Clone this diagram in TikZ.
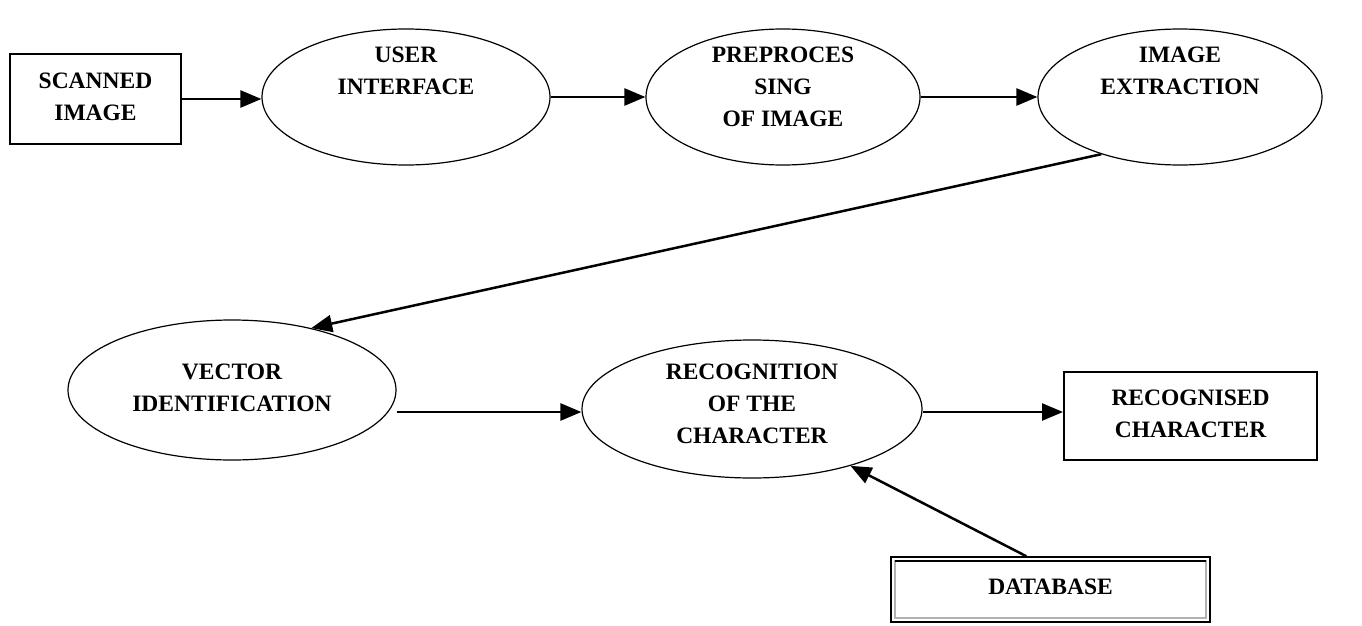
\documentclass[tikz,border=0pt]{standalone}
\usepackage{fontspec}
\setmainfont{Liberation Serif}
\usetikzlibrary{shapes.geometric,arrows.meta}
\begin{document}
\begin{tikzpicture}[x=1pt,y=-1pt,
  lbl/.style={font=\bfseries\fontsize{23.5}{32}\selectfont,align=center,inner sep=0pt},
  oval/.style={draw,ellipse,line width=1.2pt,inner sep=0pt},
  box/.style={draw,line width=2pt,inner sep=0pt},
  flow/.style={-{Triangle[length=21pt,width=17pt]},line width=2.5pt}]
\useasboundingbox (0,0) rectangle (1362,626);

% top row
\node[box,minimum width=171pt,minimum height=90pt] (scan) at (95.5,99) {};
\node[lbl] (scant) at (95.5,97) {SCANNED\\IMAGE};

\node[oval,minimum width=288pt,minimum height=136pt] (ui) at (406,97) {};
\node[lbl] (uit) at (406,71) {USER\\INTERFACE};

\node[oval,minimum width=274pt,minimum height=136pt] (pre) at (783,97) {};
\node[lbl] (pret) at (783,87) {PREPROCES\\SING\\OF IMAGE};

\node[oval,minimum width=284pt,minimum height=136pt] (ext) at (1180,97) {};
\node[lbl] (extt) at (1180,71) {IMAGE\\EXTRACTION};

% bottom row
\node[oval,minimum width=328pt,minimum height=140pt] (vec) at (232,390) {};
\node[lbl] (vect) at (232,388) {VECTOR\\IDENTIFICATION};

\node[oval,minimum width=340pt,minimum height=138pt] (rec) at (752,409) {};
\node[lbl] (rect) at (752,404) {RECOGNITION\\OF THE\\CHARACTER};

\node[box,minimum width=253pt,minimum height=88pt] (out) at (1190.5,416) {};
\node[lbl] (outt) at (1190.5,414) {RECOGNISED\\CHARACTER};

% database with framed border
\node[draw,line width=1.5pt,minimum width=319pt,minimum height=65pt,inner sep=0pt] (db) at (1050.5,589.5) {};
\draw[gray!60,line width=2.5pt] (895,561) rectangle (1206,618);
\draw[line width=2.5pt] (895,561) -- (1206,561);
\node[lbl] (dbt) at (1050.5,587) {DATABASE};

% connectors
\draw[flow] (scan.east) -- (ui.west |- scan.east);
\draw[flow] (ui.east) -- (pre.west);
\draw[flow] (pre.east) -- (ext.west);
\draw[flow] (ext.216) -- (vec.38);
\draw[flow] (vec.east |- 0,412) -- (rec.west |- 0,412);
\draw[flow] (rec.east |- 0,412) -- (out.west |- 0,412);
\draw[flow] (db.126) -- (rec.-30);
\end{tikzpicture}
\end{document}
